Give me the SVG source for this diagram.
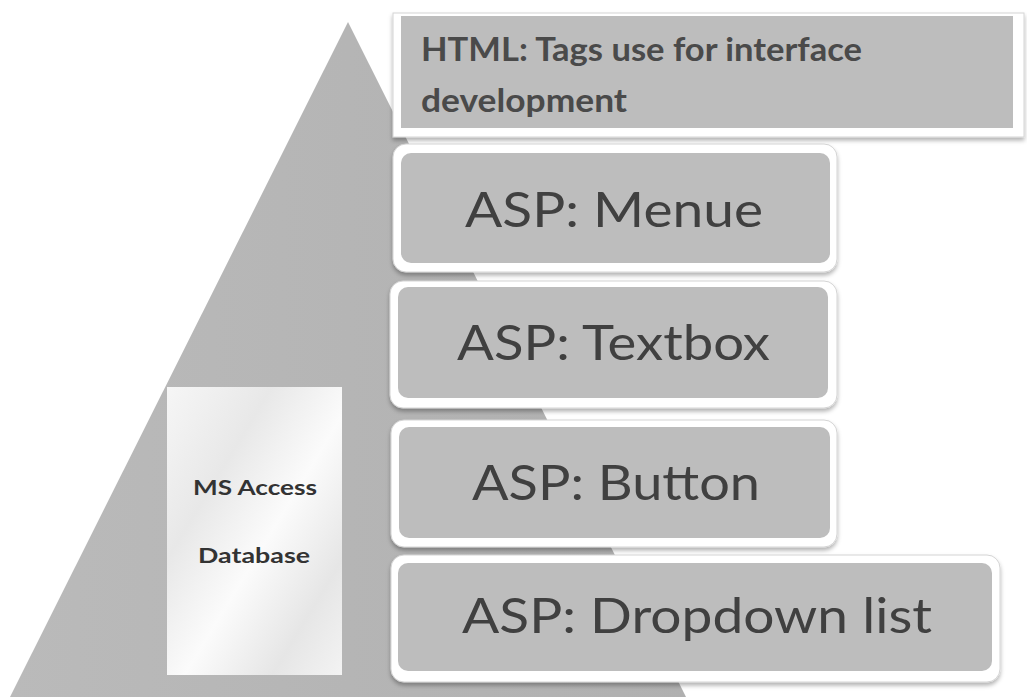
<svg xmlns="http://www.w3.org/2000/svg" width="1027" height="699" viewBox="0 0 1027 699">
  <style>
    .frame { fill: #ffffff; stroke: #d4d4d4; stroke-width: 1; }
    .panel { fill: #bdbdbd; }
    .big { font-family: Lato, "Open Sans", "Liberation Sans", sans-serif; font-size: 48px; fill: #404040; }
    .html { font-family: Lato, "Open Sans", "Liberation Sans", sans-serif; font-weight: bold; font-size: 33px; fill: #4a4a4a; }
    .db { font-family: Lato, "Open Sans", "Liberation Sans", sans-serif; font-weight: bold; font-size: 21px; fill: #333333; }
  </style>
  <defs>
    <filter id="shadow" x="-5%" y="-10%" width="110%" height="125%">
      <feDropShadow dx="0" dy="3" stdDeviation="2" flood-color="#000000" flood-opacity="0.3"/>
    </filter>
    <linearGradient id="dbgrad" x1="0" y1="0" x2="1" y2="1">
      <stop offset="0" stop-color="#f6f6f6"/>
      <stop offset="0.3" stop-color="#e8e8e8"/>
      <stop offset="0.55" stop-color="#fbfbfb"/>
      <stop offset="0.8" stop-color="#e6e6e6"/>
      <stop offset="1" stop-color="#f3f3f3"/>
    </linearGradient>
    <linearGradient id="pyrgrad" x1="0" y1="0" x2="1" y2="0">
      <stop offset="0" stop-color="#bababa"/>
      <stop offset="1" stop-color="#b0b0b0"/>
    </linearGradient>
  </defs>

  <rect width="1027" height="699" fill="#ffffff"/>

  <g id="pyramid">
    <polygon points="348,22 686,697 10,697" fill="url(#pyrgrad)"/>
  </g>

  <g id="connectors"></g>

  <g id="html-box">
    <rect class="frame" x="393" y="13" width="631" height="124" filter="url(#shadow)"/>
    <rect class="panel" x="401" y="16" width="612" height="112"/>
    <text class="html" x="421" y="61" textLength="441" lengthAdjust="spacingAndGlyphs">HTML: Tags use for interface</text>
    <text class="html" x="421" y="112" textLength="206" lengthAdjust="spacingAndGlyphs">development</text>
  </g>

  <g id="asp-menue">
    <rect class="frame" x="393" y="144" width="444" height="128" rx="13" filter="url(#shadow)"/>
    <rect class="panel" x="401" y="153" width="429" height="110" rx="10"/>
    <text class="big" x="465" y="227" textLength="298" lengthAdjust="spacingAndGlyphs">ASP: Menue</text>
  </g>

  <g id="asp-textbox">
    <rect class="frame" x="390" y="281" width="447" height="127" rx="13" filter="url(#shadow)"/>
    <rect class="panel" x="398" y="287" width="430" height="111" rx="10"/>
    <text class="big" x="457" y="360" textLength="313" lengthAdjust="spacingAndGlyphs">ASP: Textbox</text>
  </g>

  <g id="asp-button">
    <rect class="frame" x="391" y="420" width="446" height="127" rx="13" filter="url(#shadow)"/>
    <rect class="panel" x="399" y="427" width="431" height="111" rx="10"/>
    <text class="big" x="472" y="500" textLength="288" lengthAdjust="spacingAndGlyphs">ASP: Button</text>
  </g>

  <g id="asp-dropdown">
    <rect class="frame" x="391" y="555" width="609" height="127" rx="13" filter="url(#shadow)"/>
    <rect class="panel" x="398" y="563" width="594" height="108" rx="10"/>
    <text class="big" x="462" y="633" textLength="470" lengthAdjust="spacingAndGlyphs">ASP: Dropdown list</text>
  </g>

  <g id="ms-access">
    <rect x="167" y="387" width="175" height="288" fill="url(#dbgrad)"/>
    <text class="db" x="193" y="495" textLength="124" lengthAdjust="spacingAndGlyphs">MS Access</text>
    <text class="db" x="198" y="563" textLength="112" lengthAdjust="spacingAndGlyphs">Database</text>
  </g>
</svg>
